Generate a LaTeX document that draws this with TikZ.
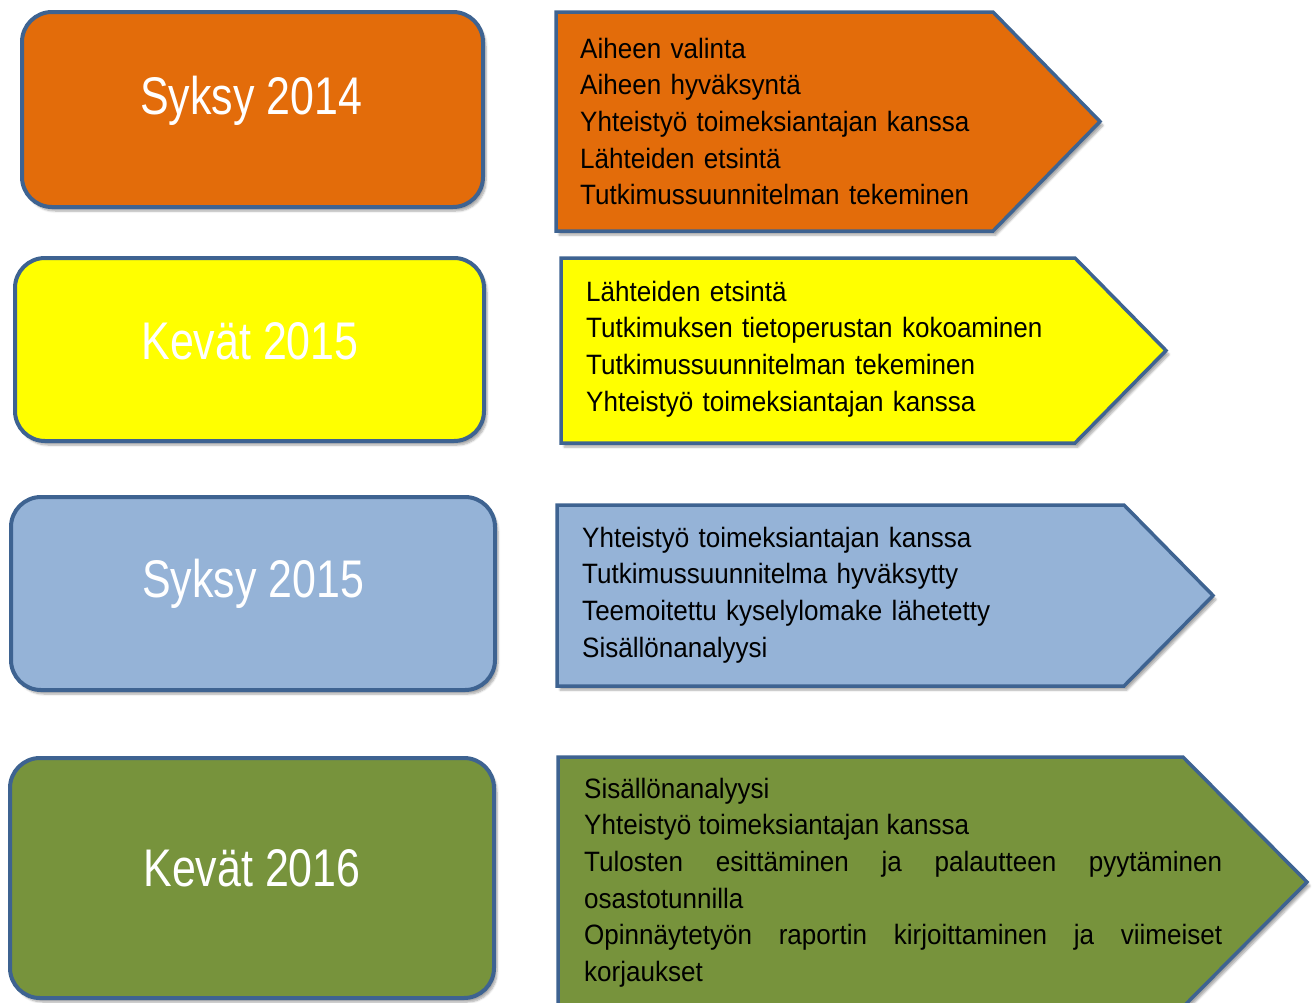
\documentclass[tikz,border=0pt]{standalone}
\usepackage{fontspec}
\setmainfont{Liberation Sans}[FakeStretch=0.93]
\newfontfamily\titlefont{Liberation Sans}[FakeStretch=0.81]
\usetikzlibrary{shadows.blur}
\hyphenpenalty=10000
\exhyphenpenalty=10000
\definecolor{edgeblue}{HTML}{3E6391}
\definecolor{cOrange}{HTML}{E36C0A}
\definecolor{cYellow}{HTML}{FFFF00}
\definecolor{cBlue}{HTML}{95B3D7}
\definecolor{cGreen}{HTML}{77933C}
\tikzset{
  x=1pt,y=-1pt,
  shad/.style={blur shadow={shadow blur steps=6,shadow xshift=3pt,shadow yshift=-4pt,shadow opacity=35}},
  period/.style={draw=edgeblue,line width=4pt,rounded corners=30pt,inner sep=0pt,shad},
  periodlabel/.style={text=white,inner sep=0pt,font=\titlefont\fontsize{53}{60}\selectfont},
  arrowbox/.style={draw=edgeblue,line width=3.5pt,line join=miter,shad},
  listtext/.style={anchor=base west,inner sep=0pt,text width=640,align=left,text=black,
    font=\fontsize{28}{36.7}\selectfont},
}
\begin{document}
\begin{tikzpicture}
\useasboundingbox (0,0) rectangle (1315,1002);
% period boxes
\node[period,fill=cOrange,minimum width=461,minimum height=195] (p1) at (252.5,109.5) {};
\node[periodlabel] (l1) at (251,101) {Syksy 2014};
\node[period,fill=cYellow,minimum width=469,minimum height=183] (p2) at (249.5,349.5) {};
\node[periodlabel] (l2) at (250,341) {Kevät 2015};
\node[period,fill=cBlue,minimum width=484,minimum height=193] (p3) at (253,593.5) {};
\node[periodlabel] (l3) at (253,584) {Syksy 2015};
\node[period,fill=cGreen,minimum width=484,minimum height=240] (p4) at (252,878) {};
\node[periodlabel] (l4) at (252,868) {Kevät 2016};
% arrows
\path[arrowbox,fill=cOrange] (556,12) -- (993,12) -- (1100,121.5) -- (993,231) -- (556,231) -- cycle;
\path[arrowbox,fill=cYellow] (561,258) -- (1075,258) -- (1166,350.5) -- (1075,443) -- (561,443) -- cycle;
\path[arrowbox,fill=cBlue] (557,505) -- (1124,505) -- (1213,595.5) -- (1124,686) -- (557,686) -- cycle;
\path[arrowbox,fill=cGreen] (558,757) -- (1183,757) -- (1307,882) -- (1183,1007) -- (558,1007) -- cycle;
% texts
\node[listtext] (t1) at (580,58) {Aiheen valinta\\Aiheen hyväksyntä\\Yhteistyö toimeksiantajan kanssa\\Lähteiden etsintä\\Tutkimussuunnitelman tekeminen};
\node[listtext] (t2) at (586,301) {Lähteiden etsintä\\Tutkimuksen tietoperustan kokoaminen\\Tutkimussuunnitelman tekeminen\\Yhteistyö toimeksiantajan kanssa};
\node[listtext] (t3) at (582,547) {Yhteistyö toimeksiantajan kanssa\\Tutkimussuunnitelma hyväksytty\\Teemoitettu kyselylomake lähetetty\\Sisällönanalyysi};
\node[listtext,text width=638,align=justify] (t4) at (584,798) {Sisällönanalyysi\newline Yhteistyö toimeksiantajan kanssa\newline Tulosten esittäminen ja palautteen pyytäminen osastotunnilla\newline Opinnäytetyön raportin kirjoittaminen ja viimeiset korjaukset};
\end{tikzpicture}
\end{document}
